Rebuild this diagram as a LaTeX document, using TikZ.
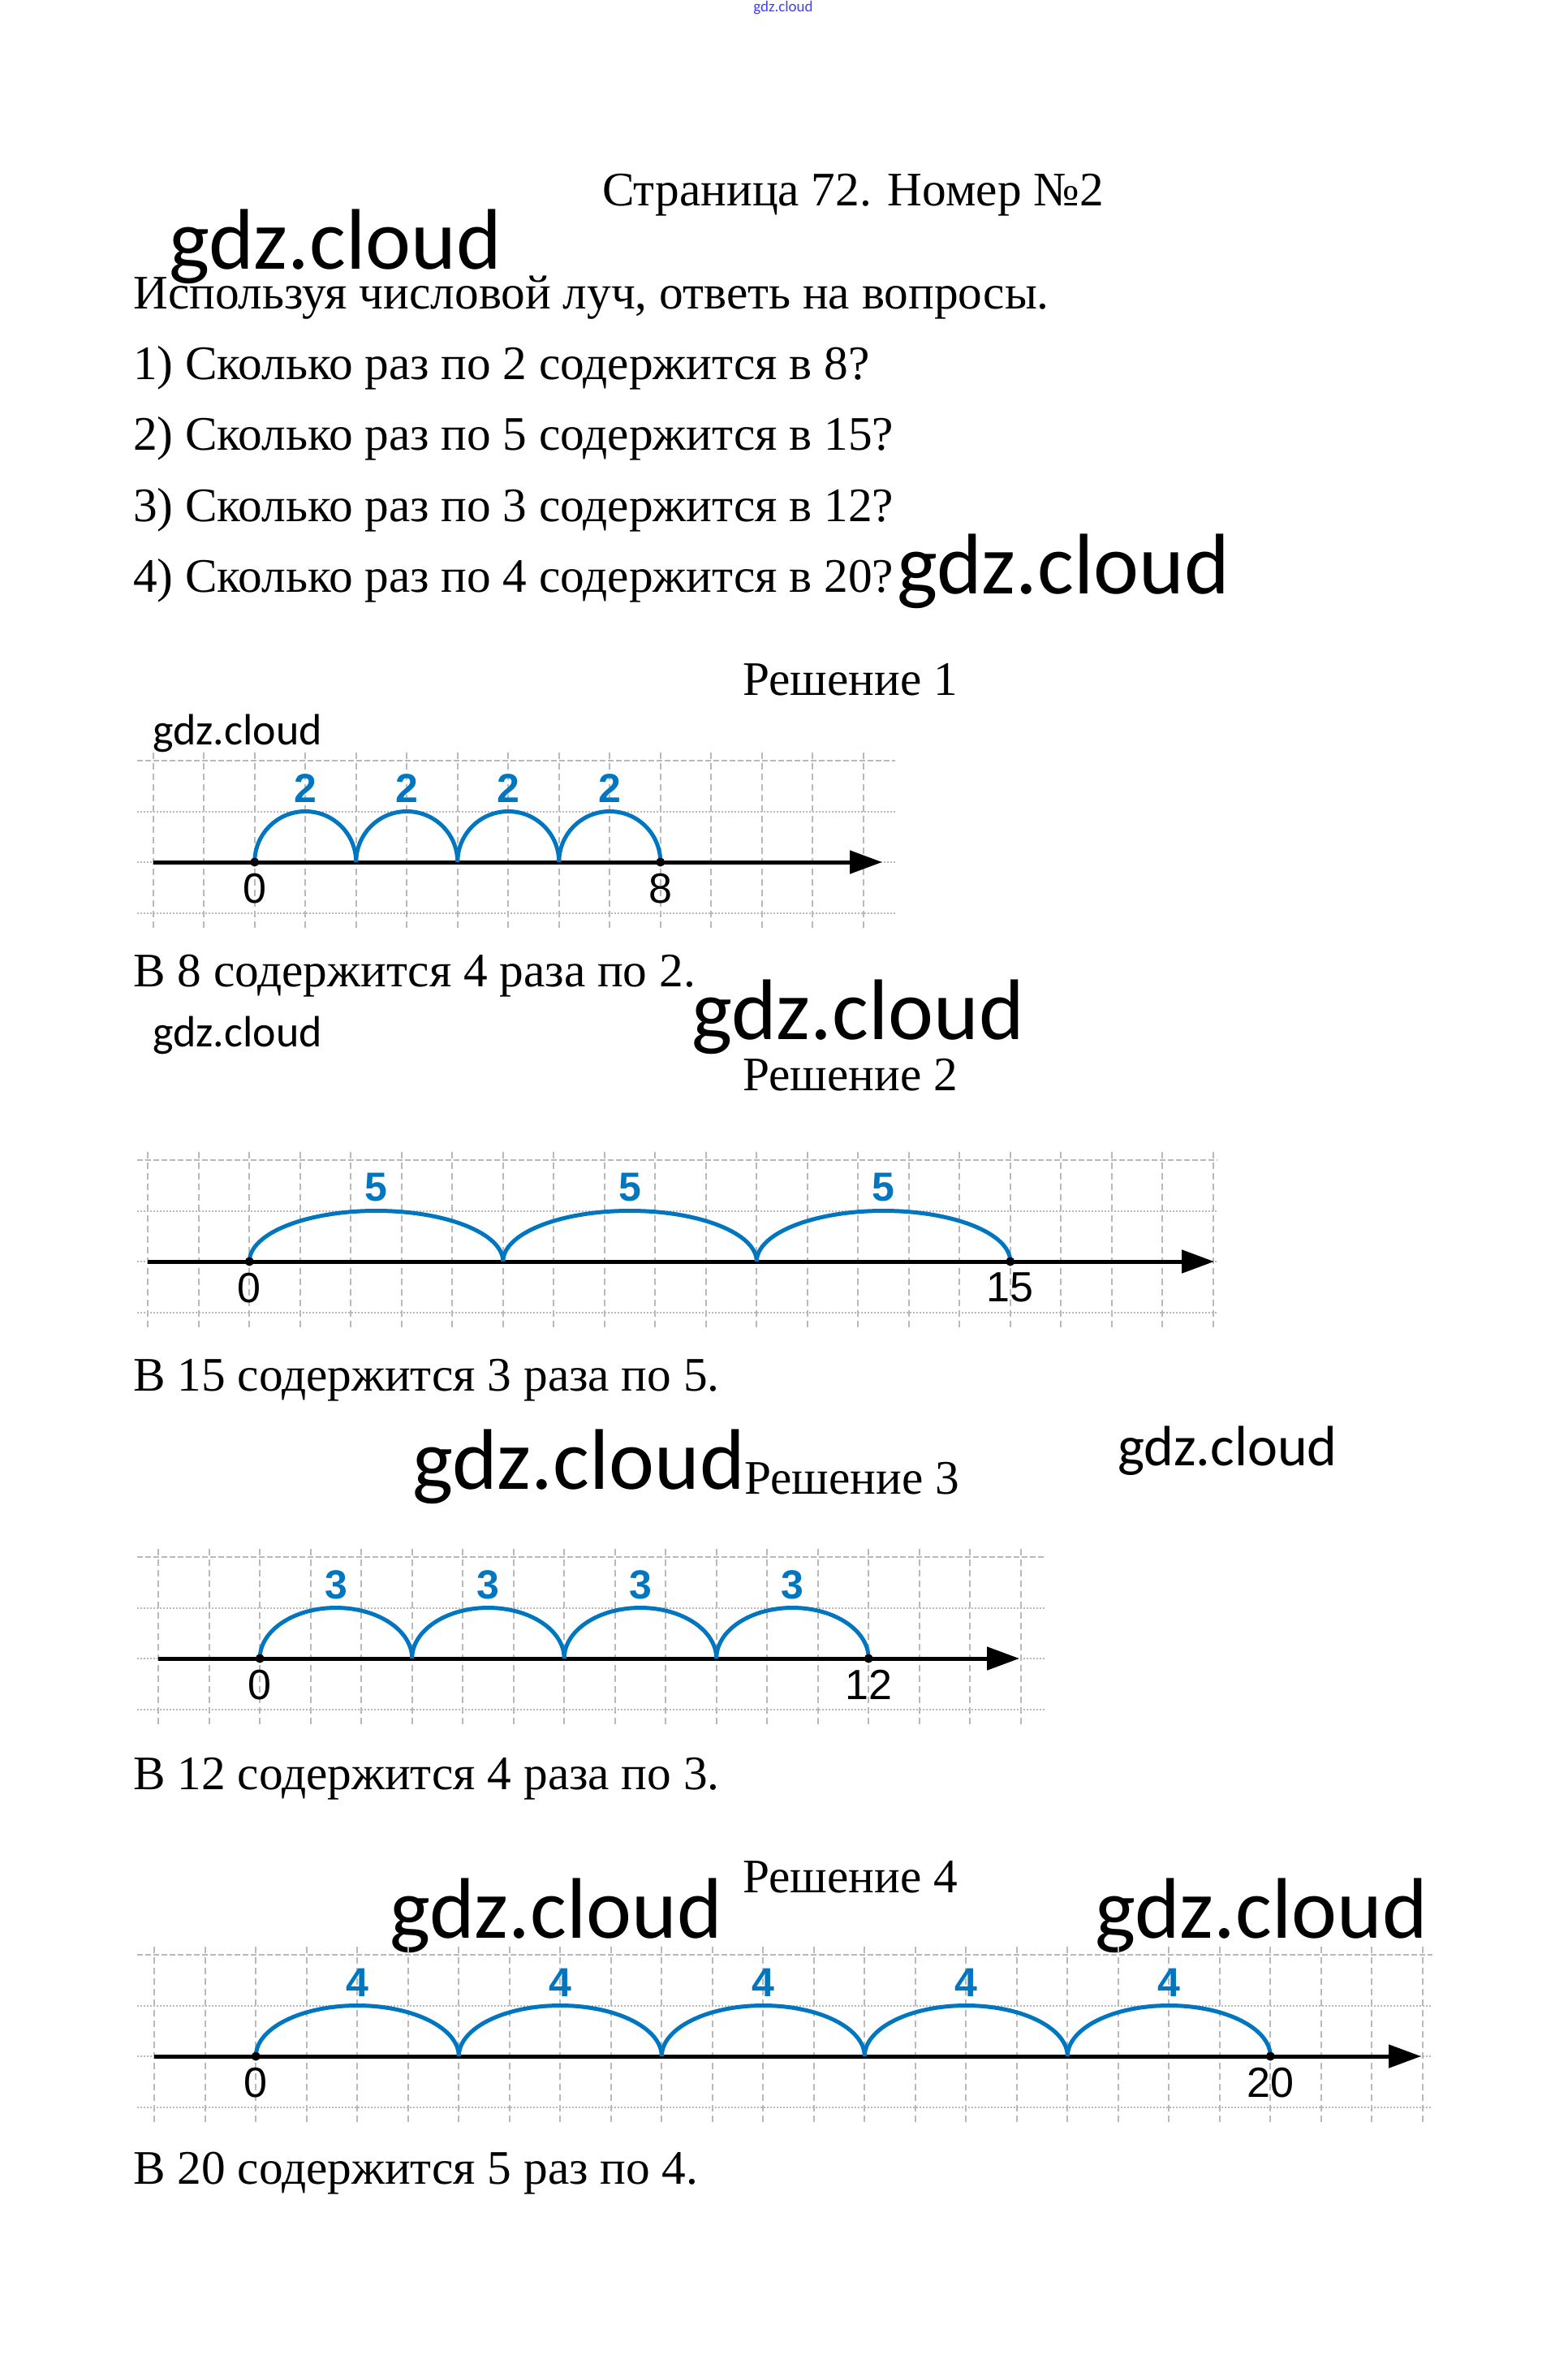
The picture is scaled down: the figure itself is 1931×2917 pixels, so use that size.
\documentclass[tikz,border=0pt]{standalone}
\usepackage{fontspec}
\setmainfont{Liberation Serif}
\newfontfamily\wmfont{Carlito}
\newfontfamily\labfont{Liberation Sans}
\usetikzlibrary{arrows.meta}
\definecolor{arcblue}{RGB}{0,118,192}
\definecolor{gridgray}{RGB}{185,185,185}
\tikzset{
  body/.style={anchor=base west, inner sep=0, font=\fontsize{59.3}{70}\selectfont},
  wm/.style={anchor=base west, inner sep=0, font=\wmfont\fontsize{#1}{#1}\selectfont},
  gridv/.style={draw=gridgray, line width=2pt, dash pattern=on 8pt off 5pt},
  gridtop/.style={draw=gridgray, line width=2.5pt, dash pattern=on 7pt off 3pt},
  griddot/.style={draw=gridgray, line width=2pt, dash pattern=on 2pt off 2pt},
  axisline/.style={draw=black, line width=5pt, -{Triangle[length=40pt,width=28pt]}},
  jumparc/.style={draw=arcblue, line width=5pt},
  steplab/.style={inner sep=0, text=arcblue, font=\labfont\bfseries\fontsize{50}{50}\selectfont},
  numlab/.style={anchor=north, inner sep=0, font=\labfont\fontsize{52}{52}\selectfont},
}
\newcommand\numline[9]{%
\begin{scope}[shift={(#2,#3)}]
  \pgfmathsetmacro\gl{169-#2}
  \pgfmathsetmacro\gr{#8-#2}
  \foreach \k in {-2,...,#7} \draw[gridv] (\k*62.5,135) -- (\k*62.5,-83);
  \draw[gridtop] (\gl,125) -- (\gr,125);
  \draw[griddot] (\gl,62.5) -- (\gr,62.5);
  \draw[griddot] (\gl,0) -- (\gr,0);
  \draw[griddot] (\gl,-63) -- (\gr,-63);
  \coordinate (#1s) at (-125,0);
  \coordinate (#1e) at (#9-#2,0);
  \draw[axisline] (#1s) -- (#1e);
  \foreach \i in {1,...,#5} {
    \pgfmathsetmacro\xa{(\i-1)*#4*62.5}
    \pgfmathsetmacro\xc{(\i-0.5)*#4*62.5}
    \draw[jumparc] (\xa,0) arc[start angle=180,end angle=0,x radius=#4*31.25,y radius=62.5];
    \node[steplab] (#1l\i) at (\xc,91) {#4};
  }
  \fill (0,0) circle[radius=5.5];
  \fill (#6*62.5,0) circle[radius=5.5];
  \node[numlab] (#1z) at (0,-14) {0};
  \node[numlab] (#1t) at (#6*62.5,-14) {#6};
\end{scope}}
\begin{document}
\begin{tikzpicture}[x=1pt,y=1pt]
\useasboundingbox (0,0) rectangle (1931,-2917);
\fill[white] (0,0) rectangle (1931,-2917);
% top tiny watermark
\node[inner sep=0, text=blue!75, font=\wmfont\fontsize{19}{19}\selectfont] (wm0) at (965,-10) {gdz.cloud};
% header
\node[body] (title) at (742,-253) {Страница 72. Номер №2};
\node[wm=106] (wm1) at (208,-331) {gdz.cloud};
\node[body] (intro) at (164,-380) {Используя числовой луч, ответь на вопросы.};
\node[body] (q1) at (164,-467) {1) Сколько раз по 2 содержится в 8?};
\node[body] (q2) at (164,-554) {2) Сколько раз по 5 содержится в 15?};
\node[body] (q3) at (164,-642) {3) Сколько раз по 3 содержится в 12?};
\node[body] (q4) at (164,-729) {4) Сколько раз по 4 содержится в 20?};
\node[wm=106] (wm2) at (1105,-731) {gdz.cloud};
% solution 1
\node[body] (s1) at (915,-856) {Решение 1};
\node[wm=54] (wm3) at (188,-917) {gdz.cloud};
\numline{a}{313.75}{-1062}{2}{4}{8}{12}{1103}{1087}
\node[body] (a1) at (164,-1215) {В 8 содержится 4 раза по 2.};
% solution 2
\node[wm=54] (wm4) at (188,-1289) {gdz.cloud};
\node[wm=106] (wm5) at (852,-1280) {gdz.cloud};
\node[body] (s2) at (915,-1343) {Решение 2};
\numline{b}{307.3}{-1554}{5}{3}{15}{19}{1500}{1496}
\node[body] (a2) at (164,-1713) {В 15 содержится 3 раза по 5.};
% solution 3
\node[wm=106] (wm6) at (508,-1834) {gdz.cloud};
\node[body] (s3) at (917,-1840) {Решение 3};
\node[wm=70] (wm7) at (1377,-1805) {gdz.cloud};
\numline{c}{320.2}{-2043}{3}{4}{12}{15}{1289}{1256}
\node[body] (a3) at (164,-2204) {В 12 содержится 4 раза по 3.};
% solution 4
\node[body] (s4) at (915,-2331) {Решение 4};
\node[wm=106] (wm8) at (480,-2387) {gdz.cloud};
\node[wm=106] (wm9) at (1349,-2387) {gdz.cloud};
\numline{d}{315.3}{-2533}{4}{5}{20}{23}{1765}{1751}
\node[body] (a4) at (164,-2690) {В 20 содержится 5 раз по 4.};
\end{tikzpicture}
\end{document}
